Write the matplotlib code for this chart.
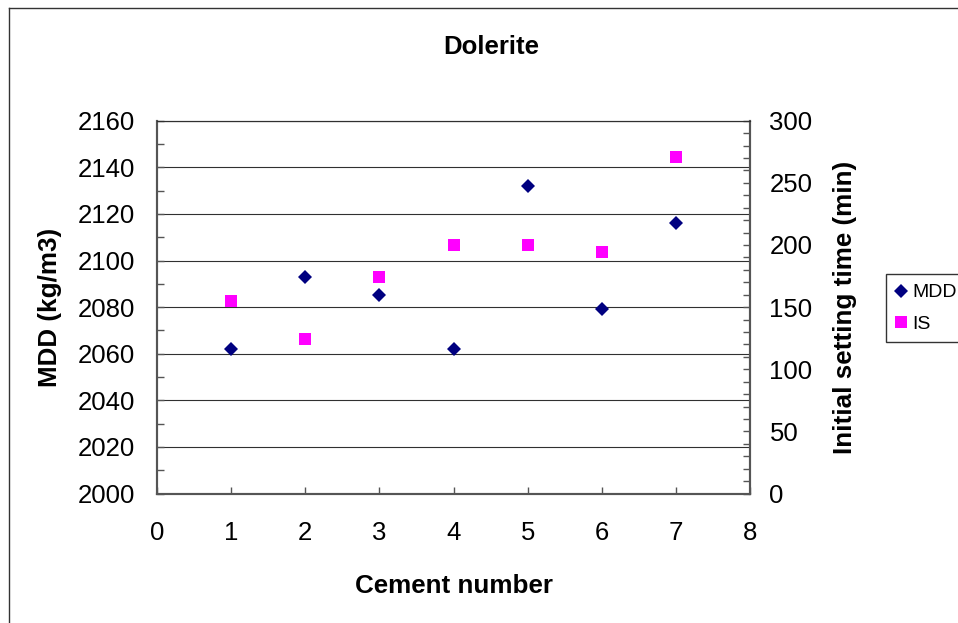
import matplotlib
matplotlib.use("Agg")
import matplotlib.pyplot as plt
from matplotlib.lines import Line2D
from matplotlib.ticker import MultipleLocator

plt.rcParams['font.family'] = ['Liberation Sans', 'DejaVu Sans']

cement = [1, 2, 3, 4, 5, 6, 7]
mdd = [2062, 2093, 2085, 2062, 2132, 2079, 2116]
initial_setting = [155, 124, 174, 200, 200, 194, 271]

W, H = 958, 623
fig = plt.figure(figsize=(W / 100, H / 100), dpi=100)
L, R, T, B = 157, 750, 120.7, 493.5
ax = fig.add_axes([L / W, 1 - B / H, (R - L) / W, (B - T) / H])
ax2 = ax.twinx()

ax.set_xlim(0, 8)
ax.set_ylim(2000, 2160)
ax2.set_ylim(0, 300)

ax.xaxis.set_major_locator(MultipleLocator(1))
ax.yaxis.set_major_locator(MultipleLocator(20))
ax.yaxis.set_minor_locator(MultipleLocator(10))
ax2.yaxis.set_major_locator(MultipleLocator(50))
ax2.yaxis.set_minor_locator(MultipleLocator(10))

ax.grid(axis='y', which='major', color='#303030', linewidth=0.8)
ax.set_axisbelow(True)

spine_col = '#555555'
for a in (ax, ax2):
    for s in a.spines.values():
        s.set_color(spine_col)
        s.set_linewidth(1.5)
    a.spines['top'].set_linewidth(0.8)
    a.spines['top'].set_color('#303030')

ax.tick_params(axis='x', direction='in', length=5, width=1, color=spine_col,
               labelsize=18.5, pad=20)
ax.tick_params(axis='y', which='both', direction='in', length=5, width=1,
               color=spine_col, labelsize=18.5, pad=16)
ax2.tick_params(axis='y', which='both', direction='in', length=5, width=1,
                color=spine_col, labelsize=18.5, pad=14)

h1, = ax.plot(cement, mdd, linestyle='none', marker='D', markersize=6.8,
              color='#000080', markeredgewidth=0, label='MDD', zorder=3)
h2, = ax2.plot(cement, initial_setting, linestyle='none', marker='s',
               markersize=8.6, color='#FF00FF', markeredgewidth=0, label='IS',
               zorder=3)

ax.set_xlabel('Cement number', fontsize=18.7, fontweight='bold', labelpad=21)
ax.set_ylabel('MDD (kg/m3)', fontsize=18.7, fontweight='bold', labelpad=11)
ax2.set_ylabel('Initial setting time (min)', fontsize=18.7, fontweight='bold',
               labelpad=15)
fig.text(491 / W, 1 - 47 / H, 'Dolerite', fontsize=18.5, fontweight='bold',
         ha='center', va='center')

leg = fig.legend([h1, h2], ['MDD', 'IS'], loc='upper left',
                 bbox_to_anchor=(886 / W, 1 - 274 / H), fontsize=14,
                 frameon=True, fancybox=False, handlelength=0.55,
                 handletextpad=0.3, borderpad=0.5, labelspacing=0.7,
                 borderaxespad=0)
leg.get_frame().set_edgecolor('black')
leg.get_frame().set_linewidth(1)

fig.add_artist(Line2D([8.5 / W, 8.5 / W], [0, 1 - 7.5 / H], color='#333333',
                      linewidth=1, transform=fig.transFigure))
fig.add_artist(Line2D([8.5 / W, 1], [1 - 7.5 / H, 1 - 7.5 / H], color='#333333',
                      linewidth=1, transform=fig.transFigure))

fig.savefig('out.png', dpi=100)
